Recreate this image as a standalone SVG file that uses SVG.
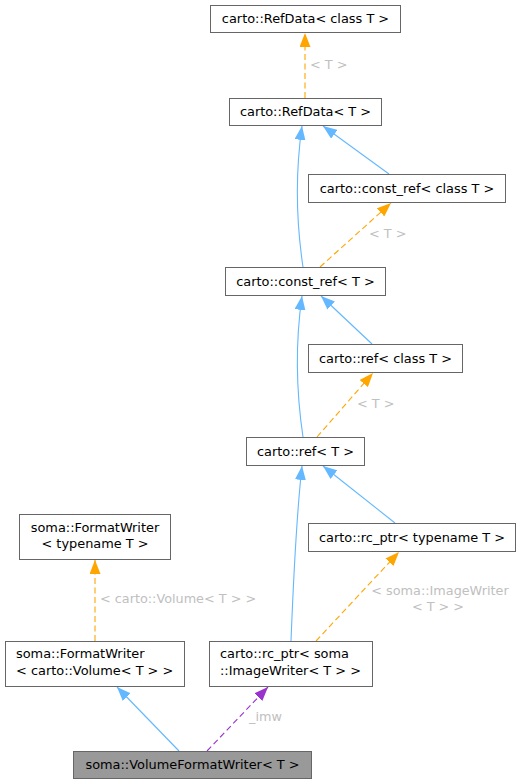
<svg xmlns="http://www.w3.org/2000/svg" width="521" height="784" viewBox="0 0 521 784">
<style>
.node rect{fill:#ffffff;stroke:#666666;stroke-width:1}
.node.hl rect{fill:#999999}
.node text{font-family:"DejaVu Sans",sans-serif;font-size:12.9px;fill:#000000}
.c{text-anchor:middle}
.edge{fill:none;stroke-width:1.1}
.blue{stroke:#63b8ff}
.orange{stroke:#ffa500;stroke-dasharray:6,3.5}
.purple{stroke:#9a32cd;stroke-dasharray:6,3.5}
.lbl{font-family:"DejaVu Sans",sans-serif;font-size:12.8px;fill:#c0c0c0}
</style>
<defs>
<marker id="ab" markerUnits="userSpaceOnUse" markerWidth="14" markerHeight="11" viewBox="0 0 14 11" refX="14" refY="5.5" orient="auto"><path d="M0,0 L14,5.5 L0,11 z" fill="#63b8ff" stroke="none"/></marker>
<marker id="ao" markerUnits="userSpaceOnUse" markerWidth="14" markerHeight="11" viewBox="0 0 14 11" refX="14" refY="5.5" orient="auto"><path d="M0,0 L14,5.5 L0,11 z" fill="#ffa500" stroke="none"/></marker>
<marker id="ap" markerUnits="userSpaceOnUse" markerWidth="14" markerHeight="11" viewBox="0 0 14 11" refX="14" refY="5.5" orient="auto"><path d="M0,0 L14,5.5 L0,11 z" fill="#9a32cd" stroke="none"/></marker>
</defs>
<g id="edges">
<path class="edge orange" d="M305,98 L305,33" marker-end="url(#ao)"/>
<text class="lbl" x="310" y="69">&lt; T &gt;</text>
<path class="edge blue" d="M303,267 C296,220 295,175 302,126" marker-end="url(#ab)"/>
<path class="edge blue" d="M389,174 L323,126" marker-end="url(#ab)"/>
<path class="edge orange" d="M320,267 L391,203" marker-end="url(#ao)"/>
<text class="lbl" x="369" y="238">&lt; T &gt;</text>
<path class="edge blue" d="M303,437 C296,390 295,345 302,296" marker-end="url(#ab)"/>
<path class="edge blue" d="M372,344 L321,296" marker-end="url(#ab)"/>
<path class="edge orange" d="M317,437 L373,373" marker-end="url(#ao)"/>
<text class="lbl" x="357" y="408">&lt; T &gt;</text>
<path class="edge blue" d="M291,641 C293,590 296,520 302,466" marker-end="url(#ab)"/>
<path class="edge blue" d="M395,523 L323,466" marker-end="url(#ab)"/>
<path class="edge orange" d="M316,641 L399,552" marker-end="url(#ao)"/>
<text class="lbl" x="440" y="595" text-anchor="middle">&lt; soma::ImageWriter</text>
<text class="lbl" x="438" y="611" text-anchor="middle">&lt; T &gt; &gt;</text>
<path class="edge blue" d="M179,751 L117,687" marker-end="url(#ab)"/>
<path class="edge purple" d="M207,751 L268,687" marker-end="url(#ap)"/>
<text class="lbl" x="249" y="721">_imw</text>
<path class="edge orange" d="M95,641 L95,560" marker-end="url(#ao)"/>
<text class="lbl" x="100" y="603">&lt; carto::Volume&lt; T &gt; &gt;</text>
</g>
<g id="RefDataClassT" class="node"><rect x="210.5" y="5.5" width="190" height="27"/><text class="c" x="305.5" y="23">carto::RefData&lt; class T &gt;</text></g>
<g id="RefDataT" class="node"><rect x="229.5" y="98.5" width="152" height="27"/><text class="c" x="305.5" y="116">carto::RefData&lt; T &gt;</text></g>
<g id="ConstRefClassT" class="node"><rect x="308.5" y="174.5" width="197" height="28"/><text class="c" x="407" y="193">carto::const_ref&lt; class T &gt;</text></g>
<g id="ConstRefT" class="node"><rect x="225.5" y="267.5" width="160" height="28"/><text class="c" x="305.5" y="286">carto::const_ref&lt; T &gt;</text></g>
<g id="RefClassT" class="node"><rect x="308.5" y="344.5" width="154" height="28"/><text class="c" x="385.5" y="363">carto::ref&lt; class T &gt;</text></g>
<g id="RefT" class="node"><rect x="246.5" y="437.5" width="118" height="28"/><text class="c" x="305.5" y="456">carto::ref&lt; T &gt;</text></g>
<g id="FormatWriterTypenameT" class="node"><rect x="19.5" y="514.5" width="151" height="45"/><text class="c" x="95" y="532">soma::FormatWriter</text><text class="c" x="95" y="548">&lt; typename T &gt;</text></g>
<g id="RcPtrTypenameT" class="node"><rect x="308.5" y="523.5" width="207" height="28"/><text class="c" x="412" y="542">carto::rc_ptr&lt; typename T &gt;</text></g>
<g id="FormatWriterVolume" class="node"><rect x="5.5" y="641.5" width="179" height="45"/><text x="16" y="658">soma::FormatWriter</text><text x="16" y="675">&lt; carto::Volume&lt; T &gt; &gt;</text></g>
<g id="RcPtrImageWriter" class="node"><rect x="209.5" y="641.5" width="163" height="45"/><text x="220" y="658">carto::rc_ptr&lt; soma</text><text x="220" y="675">::ImageWriter&lt; T &gt; &gt;</text></g>
<g id="VolumeFormatWriter" class="node hl"><rect x="73.5" y="751.5" width="238" height="27"/><text class="c" x="192.5" y="769">soma::VolumeFormatWriter&lt; T &gt;</text></g>
</svg>
